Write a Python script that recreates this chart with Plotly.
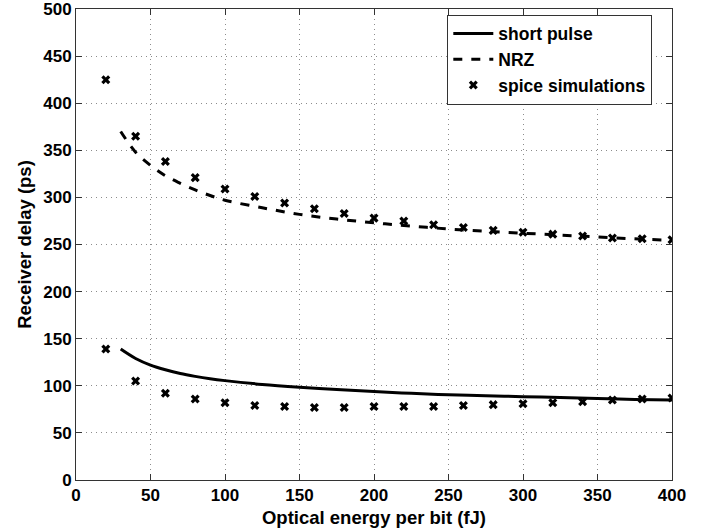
import plotly.graph_objects as go

# Model curves
model_x = [30, 40, 50, 60, 70, 80, 90, 100, 125, 150, 175, 200, 225, 250, 275, 300, 325, 350, 375, 400]
short_pulse = [139, 129, 122, 117, 113, 110, 107.5, 105.5, 101.5, 98.5, 96, 94, 92, 90.5, 89.5, 88.5, 87.5, 86.5, 85.5, 85]
nrz = [370, 348, 334, 323, 315, 308, 302, 297, 289, 282, 277, 273, 269.5, 266.5, 264, 262, 260, 258, 256, 254.5]

# Spice simulations
spice_x = [20, 40, 60, 80, 100, 120, 140, 160, 180, 200, 220, 240, 260, 280, 300, 320, 340, 360, 380, 400]
spice_nrz = [425, 365, 338, 321, 309, 301, 294, 288, 283, 278, 275, 271, 268, 265, 263, 261, 259, 257, 256, 255]
spice_short = [139, 105, 92, 86, 82, 79, 78, 77, 77, 78, 78, 78, 79, 80, 81, 82, 83, 85, 86, 87]

x_ticks = [0, 50, 100, 150, 200, 250, 300, 350, 400]
y_ticks = [0, 50, 100, 150, 200, 250, 300, 350, 400, 450, 500]

FAM = "Liberation Sans, Arial, sans-serif"

fig = go.Figure()
fig.add_trace(go.Scatter(x=model_x, y=short_pulse, mode="lines", name="short pulse",
                         line=dict(color="black", width=3, shape="spline")))
fig.add_trace(go.Scatter(x=model_x, y=nrz, mode="lines", name="NRZ",
                         line=dict(color="black", width=3, dash="dash", shape="spline")))
fig.add_trace(go.Scatter(x=spice_x + spice_x, y=spice_nrz + spice_short, mode="markers",
                         name="spice simulations",
                         marker=dict(symbol="x", size=8, color="black")))

axis_common = dict(showline=True, linecolor="#333", linewidth=1, mirror="ticks",
                   ticks="inside", ticklen=6, tickcolor="#333",
                   showgrid=True, gridcolor="#8c8c8c", griddash="1px,4px", gridwidth=1,
                   zeroline=False, automargin=False, ticklabeloverflow="allow",
                   tickfont=dict(family=FAM, size=17, color="black", weight="bold"))

fig.update_layout(
    width=706, height=529,
    margin=dict(l=76, r=34, t=9, b=49),
    paper_bgcolor="white", plot_bgcolor="white",
    font=dict(family=FAM, size=18, color="black"),
    showlegend=True,
    legend=dict(x=0.623, y=0.988, xanchor="left", yanchor="top",
                bgcolor="white", bordercolor="#333", borderwidth=1,
                font=dict(family=FAM, size=17.5, color="black", weight="bold"),
                tracegroupgap=0, itemwidth=40),
)
fig.update_xaxes(range=[0, 400], tickvals=x_ticks,
                 title=dict(text="Optical energy per bit (fJ)", standoff=6,
                            font=dict(family=FAM, size=18.5, color="black", weight="bold")),
                 **axis_common)
fig.update_yaxes(range=[0, 500], tickvals=y_ticks,
                 title=dict(text="Receiver delay (ps)", standoff=6,
                            font=dict(family=FAM, size=18.5, color="black", weight="bold")),
                 **axis_common)

fig.write_html("out.html", config={"displayModeBar": False},
               post_script="document.body.style.margin='0';")
